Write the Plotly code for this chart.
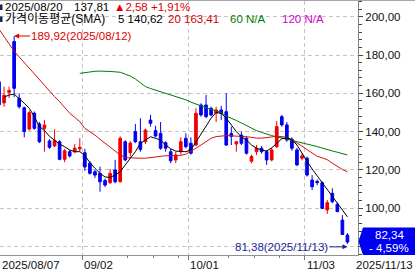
import plotly.graph_objects as go

# ---------------- data ----------------
day_index = list(range(70))  # trading days from 2025/08/07 to 2025/11/13

opens = [166, 155, 160.5, 187, 157.4, 152.5, 141.3, 149.6, 144, 141.7,
         135.1, 132.5, 134.7, 125.5, 129.5, 129.5, 131, 129, 123.5, 119,
         118.2, 114.4, 113.3, 120, 113.8, 134.7, 129, 140, 134.7, 134.7,
         146, 140.5, 139.1, 134.2, 129.5, 125.2, 129.5, 136.5, 133.9, 133,
         153.9, 153.9, 152.2, 149.6, 151.3, 150.4, 139, 133.5, 138.2, 136.5,
         124.5, 129.5, 131.3, 129.5, 125.2, 132.1, 147.8, 143.5, 136, 130.4,
         126.1, 126.1, 114.7, 114, 113.3, 99.1, 107.8, 102.1, 93.8, 86]
highs = [168, 163.5, 163.5, 189.92, 160, 153, 151, 150.5, 145, 146,
         136, 141.2, 135.5, 131, 130.5, 133.5, 136.5, 131, 124.5, 120,
         121.7, 115.5, 120.5, 125.2, 137.5, 135.5, 135, 144, 147, 141.5,
         148.7, 143, 145, 135, 131, 129.5, 137, 139.1, 137, 152.2,
         154.8, 159.1, 153, 153, 153.5, 160, 142.6, 135, 140, 137.5,
         128, 133, 132.5, 130.4, 131.5, 145.5, 148.7, 145, 137, 131.5,
         128.5, 127, 117.3, 115, 114, 104.3, 110.4, 103, 96.4, 87]
lows = [153, 153, 157.5, 158, 152, 137, 140.5, 141, 134, 129.5,
        131, 132, 125, 124, 126.5, 128.7, 129.5, 119.5, 117.5, 115.8,
        108.6, 111, 112.7, 113, 113.5, 124.5, 127, 134, 129.5, 133.5,
        142.6, 137, 130.5, 129.5, 123.5, 123.5, 128, 131.3, 128, 132.5,
        147.8, 147, 148, 145, 146, 132.5, 133, 129.5, 133, 128,
        123.5, 127.8, 128.5, 122.6, 124.5, 131.5, 142.6, 134.7, 130, 122,
        125, 116.5, 109.5, 112, 99.5, 97, 102.6, 98, 86, 81.38]
closes = [154, 159, 161.5, 162.6, 153, 140, 149.9, 141.7, 134.7, 143.4,
          131.8, 135.3, 125.5, 130, 127.3, 131.3, 131.8, 121.5, 118.2, 117.3,
          113.8, 112.1, 118.2, 113.8, 136.5, 125.2, 134, 134.7, 130.7, 140.8,
          144.3, 137.7, 131.3, 131.3, 124.8, 127.8, 134.7, 132.1, 128.7, 149.6,
          148.7, 147.8, 148.7, 151.3, 149.6, 133, 137.5, 134.7, 133.9, 128.7,
          127, 131.3, 129.5, 125.2, 130.4, 142.6, 143.5, 135.6, 131.3, 122.6,
          127.3, 117.3, 111.2, 113.3, 99.9, 102.9, 103.4, 98.2, 86.3, 82.34]

sma5 = [None, 158.0, 159.1, 159.6, 157.4, 154.8, 152.2, 147.8, 142.6, 140.6,
        137.5, 135.5, 133.5, 132.1, 130.4, 129.5, 129.5, 127.5, 123.8, 120.8,
        118.2, 116.3, 116.1, 117.3, 119.1, 122.6, 126.1, 129.5, 133.9, 135.6,
        137.3, 136.5, 135.6, 133.0, 131.0, 129.8, 129.5, 129.5, 130.4, 134.7,
        139.1, 143.4, 147.0, 150.0, 149.5, 147.0, 143.5, 140.0, 137.3, 135.6,
        133.0, 131.3, 130.4, 129.8, 131.5, 134.0, 136.3, 136.8, 135.8, 133.0,
        128.5, 124.5, 120.5, 117.0, 113.5, 110.0, 106.5, 103.0, 99.5, 95.5]
sma20 = [193.5, 189.5, 185.5, 182, 179, 176, 173, 170, 167, 164,
         161, 158.3, 155.6, 152.6, 149.6, 147.4, 145.2, 141.7, 140, 138.2,
         136, 133.9, 131.7, 129.5, 127.8, 126.4, 126.2, 126.1, 126.1, 126.1,
         126.5, 126.9, 127.2, 127.4, 127.4, 127.4, 127.6, 128.2, 129.6, 131.3,
         133, 134.8, 136.5, 137.4, 137.7, 137.9, 137.8, 137.7, 137.5, 137.3,
         137, 136.6, 136.6, 136.8, 137.2, 137.6, 137.4, 137.1, 135.6, 134.2,
         132.4, 130.6, 128.7, 127.1, 126.3, 125.3, 123.5, 121.8, 120.2, 119]
sma60 = [None] * 16 + [
         170.4, 170.8, 171.2, 171.5, 171.6, 171.6, 171.4, 171.2, 171, 170,
         169, 167.5, 165.5, 163.5, 162.5, 161.7, 160.8, 160, 159.3, 158.5,
         157.6, 156.6, 155.4, 154.2, 153.4, 152.5, 151.7, 150.8, 150, 148.1,
         147.1, 145.8, 144.5, 143.1, 141.8, 140.5, 139.6, 138.6, 137.9, 137.3,
         136.7, 136.2, 135.4, 134.8, 134.1, 133.5, 132.8, 132.2, 131.4, 130.5,
         129.9, 129.2, 128.3, 127.8]

y_ticks = [80, 100, 120, 140, 160, 180, 200]
y_tick_labels = ["", "100,00", "120,00", "140,00", "160,00", "180,00", "200,00"]
month_bounds = [-0.5, 16.5, 37.5, 60.5]
month_labels = ["2025/08/07", "09/02", "10/01", "11/03"]
week_bounds = [25.5, 30.5, 35.5, 45.5, 50.5, 55.5]
last_date = "2025/11/13"
header1 = [("2025/08/20", "#000000"), ("137,81", "#000000"), ("▲2,58", "#e00000"), ("+1,91%", "#e00000")]
header2 = [("가격이동평균(SMA)", "#000000"), ("5 140,62", "#000000"), ("20 163,41", "#d00000"),
           ("60 N/A", "#008000"), ("120 N/A", "#d000d0")]
high_note = "189,92(2025/08/12)"
low_note = "81,38(2025/11/13)"
last_close = "82,34"
last_change = "- 4,59%"

# ---------------- layout geometry ----------------
W, H = 415, 273
PL, PR, PT, PB = 0, 358, 1, 255  # plot area in pixels
X_RANGE = [0.198, 71.09]


def px(x):
    return (x - PL) / (PR - PL)


def py(y):
    return (PB - y) / (PB - PT)


def x_of_index(i):
    # pixel position of a day index (same linear map as the x axis range)
    return PL + (i - X_RANGE[0]) / (X_RANGE[1] - X_RANGE[0]) * (PR - PL)


FONT = "Liberation Sans, Arial, Noto Sans CJK KR, sans-serif"
GRID = "#c4c4c4"

fig = go.Figure()
fig.add_trace(go.Candlestick(
    x=day_index, open=opens, high=highs, low=lows, close=closes,
    increasing=dict(line=dict(color="#f00000", width=1), fillcolor="#f00000"),
    decreasing=dict(line=dict(color="#0000f0", width=1), fillcolor="#0000f0"),
    whiskerwidth=0, hoverinfo="skip", showlegend=False))
fig.add_trace(go.Scatter(x=day_index, y=sma60, mode="lines",
                         line=dict(color="#007a00", width=1), showlegend=False, hoverinfo="skip"))
fig.add_trace(go.Scatter(x=day_index, y=sma20, mode="lines",
                         line=dict(color="#d41010", width=1), showlegend=False, hoverinfo="skip"))
fig.add_trace(go.Scatter(x=day_index, y=sma5, mode="lines",
                         line=dict(color="#000000", width=1), showlegend=False, hoverinfo="skip"))

annotations = []
# header lines
for (txt, col), x0 in zip(header1, [4, 73, 113, 150]):
    annotations.append(dict(text=txt, x=px(x0), y=py(7.5), xref="paper", yref="paper",
                            xanchor="left", yanchor="middle", showarrow=False,
                            font=dict(family=FONT, size=11.5, color=col), borderpad=0))
for (txt, col), x0 in zip(header2, [4, 117, 167, 229, 281]):
    annotations.append(dict(text=txt, x=px(x0), y=py(19.5), xref="paper", yref="paper",
                            xanchor="left", yanchor="middle", showarrow=False,
                            font=dict(family=FONT, size=12 if "SMA" in txt else 11.5, color=col),
                            borderpad=0))
# x date labels (paper positions; the first one is kept inside the picture)
for xb, lab in zip(month_bounds, month_labels):
    annotations.append(dict(text=lab, x=px(max(x_of_index(xb) + 1, 0.5)), y=py(265),
                            xref="paper", yref="paper",
                            xanchor="left", yanchor="middle", showarrow=False,
                            font=dict(family=FONT, size=11.5, color="#111111"), borderpad=0))
annotations.append(dict(text=last_date, x=px(355), y=py(265), xref="paper", yref="paper",
                        xanchor="left", yanchor="middle", showarrow=False,
                        font=dict(family=FONT, size=11.5, color="#111111"), borderpad=0))
# high / low notes
annotations.append(dict(text=high_note, x=3, y=max(highs), xref="x", yref="y",
                        ax=16, ay=0, xanchor="left", yanchor="middle", showarrow=True,
                        arrowhead=2, arrowsize=1, arrowwidth=1, arrowcolor="#e00000",
                        font=dict(family=FONT, size=11.5, color="#e00000"), borderpad=0))
annotations.append(dict(text=low_note, x=69, y=min(lows), xref="x", yref="y",
                        ax=-18, ay=0, xanchor="right", yanchor="middle", showarrow=True,
                        arrowhead=2, arrowsize=1, arrowwidth=1, arrowcolor="#1e1e96", yshift=-3,
                        font=dict(family=FONT, size=11.5, color="#1e1e96"), borderpad=0))
# last price box texts
for txt, yy in [(last_close, 235), (last_change, 247.5)]:
    annotations.append(dict(text=txt, x=px(389.5), y=py(yy), xref="paper", yref="paper",
                            xanchor="center", yanchor="middle", showarrow=False,
                            font=dict(family=FONT, size=11.5, color="#ffffff"), borderpad=0))

shapes = [
    # top border
    dict(type="line", xref="paper", yref="paper", x0=px(0), x1=px(W), y0=py(0.5), y1=py(0.5),
         line=dict(color="#a8a8a8", width=1)),
    # header markers
    dict(type="rect", xref="paper", yref="paper", x0=px(0), x1=px(2.5), y0=py(4.5), y1=py(10),
         fillcolor="#1c2450", line=dict(width=0)),
    dict(type="rect", xref="paper", yref="paper", x0=px(0), x1=px(2.5), y0=py(16.5), y1=py(22),
         fillcolor="#1c2450", line=dict(width=0)),
    # last price tag
    dict(type="path", xref="paper", yref="paper",
         path=f"M {px(358.5)} {py(241.5)} L {px(363)} {py(227.5)} L {px(W)} {py(227.5)} "
              f"L {px(W)} {py(255)} L {px(363)} {py(255)} Z",
         fillcolor="#0000f0", line=dict(width=0), layer="above"),
]

fig.update_layout(
    width=W, height=H,
    margin=dict(l=PL, r=W - PR, t=PT, b=H - PB, pad=0),
    paper_bgcolor="white", plot_bgcolor="white",
    showlegend=False, boxgap=0.25,
    annotations=annotations, shapes=shapes,
    xaxis=dict(range=X_RANGE, rangeslider=dict(visible=False),
               tickmode="array", tickvals=month_bounds, showticklabels=False,
               ticks="outside", ticklen=4, tickcolor="#777777",
               showgrid=True, gridcolor=GRID, griddash="4px,3px", gridwidth=1,
               showline=True, linecolor="#909090", linewidth=1,
               zeroline=False,
               minor=dict(tickmode="array", tickvals=week_bounds, ticks="outside",
                          ticklen=2, tickcolor="#777777", showgrid=False)),
    yaxis=dict(range=[75.56, 208.2], side="right",
               tickmode="array", tickvals=y_ticks, ticktext=y_tick_labels,
               ticks="outside", ticklen=4, tickcolor="#444444",
               tickfont=dict(family=FONT, size=11.5, color="#111111"),
               showgrid=True, gridcolor=GRID, griddash="4px,3px", gridwidth=1,
               showline=True, linecolor="#808080", linewidth=1, zeroline=False,
               minor=dict(tick0=0, dtick=4, ticks="outside", ticklen=3,
                          tickcolor="#444444", showgrid=False)),
)

fig.write_html("out.html", config={"displayModeBar": False})
